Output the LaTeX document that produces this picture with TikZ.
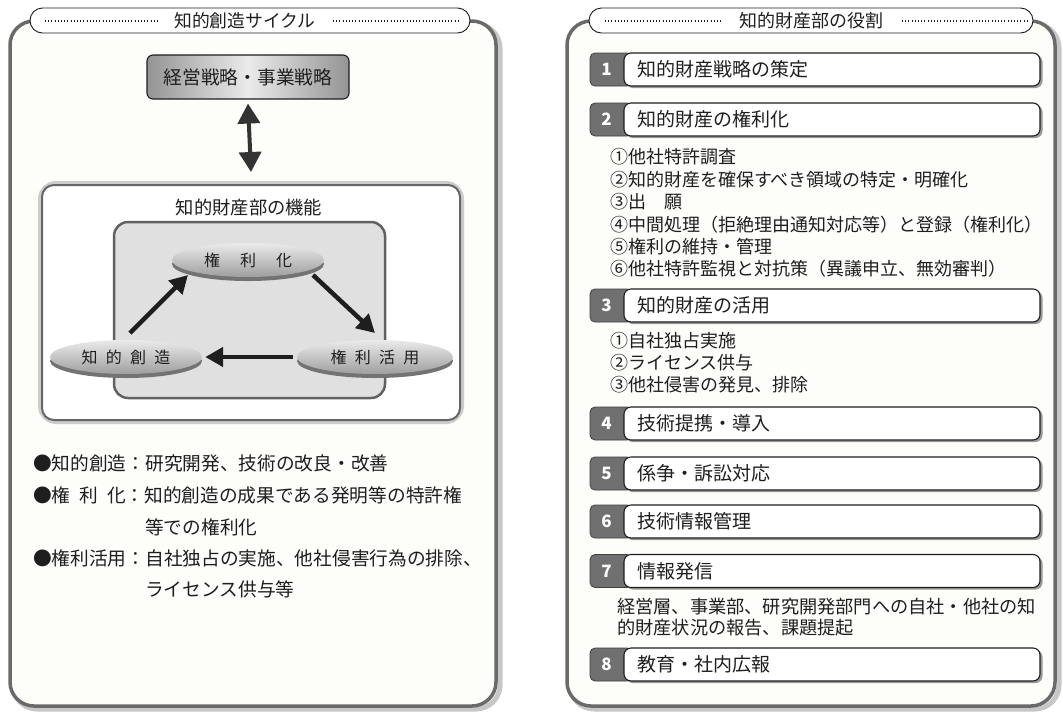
\documentclass[tikz,border=0pt]{standalone}
\usepackage{fontspec}
\setmainfont{Noto Sans CJK JP}
\usetikzlibrary{shapes.geometric,arrows.meta,calc}
\definecolor{paper}{HTML}{FDFDF9}
\definecolor{frame}{HTML}{6A6A6A}
\definecolor{ink}{HTML}{1E1E1E}
\definecolor{numbg}{HTML}{707070}
\newcommand\fs[1]{\fontsize{#1}{#1}\selectfont}
\newcommand\roleitem[4]{%
  \fill[black!40, rounded corners=7pt] (626,#2-14.5) rectangle (1042.5,#2+18.5);
  \draw[fill=numbg, draw=black!75, line width=0.8pt, rounded corners=5pt] (590,#2-16.5) rectangle (632,#2+16.5);
  \draw[fill=white, draw=ink, line width=1.1pt, rounded corners=7pt] (624,#2-16.5) rectangle (1040,#2+16.5);
  \node[numtxt] (n#1) at (606.5,#2) {#3};
  \node[hdrtxt] (h#1) at (637,#2) {#4};
}
\begin{document}
\begin{tikzpicture}[x=1pt,y=-1pt,
  pill/.style={draw=ink, line width=0.9pt, fill=white, rounded corners=12.5pt},
  dots/.style={draw=ink, line width=1.1pt, dash pattern=on 1pt off 2.2pt},
  numtxt/.style={text=white, font=\fs{17}\bfseries, inner sep=0pt},
  hdrtxt/.style={anchor=west, text=ink, font=\fs{19}, inner sep=0pt},
  sub/.style={anchor=west, text=ink, font=\fs{18}, inner sep=0pt},
  bul/.style={anchor=west, text=ink, font=\fs{18.7}, inner sep=0pt},
  oval/.style={ellipse, draw=none, top color=black!8, bottom color=black!38, minimum width=152pt, minimum height=34pt, inner sep=0pt, font=\fs{16}, text=ink},
  cyc/.style={line width=4.5pt, draw=ink, -{Triangle[length=18pt,width=19pt]}},
  dbl/.style={line width=4pt, draw=black!80, {Triangle[length=20pt,width=22pt]}-{Triangle[length=20pt,width=22pt]}}
]
\useasboundingbox (0,0) rectangle (1063,713);
\fill[white] (0,0) rectangle (1063,713);

% ---------------- left panel ----------------
\draw[line width=5pt, black!22, rounded corners=24pt] (13,24) rectangle (500,709);
\draw[line width=3.5pt, draw=frame, fill=paper, rounded corners=24pt] (10,21) rectangle (496,706);
\draw[pill] (30,8) rectangle (470,33);
\draw[dots] (45,21) -- (158,21);
\draw[dots] (333,21) -- (458,21);
\node[font=\fs{17.8}, text=ink, inner sep=0pt] (ltitle) at (245,20.5) {知的創造サイクル};

\node[draw=ink, line width=1.1pt, rounded corners=6pt, left color=black!42, right color=black!42, middle color=black!8,
      minimum width=202pt, minimum height=44pt, font=\fs{18.7}, text=ink] (strat) at (248,77) {経営戦略・事業戦略};

\draw[line width=8pt, black!20, rounded corners=14pt] (42,185) rectangle (460,420);
\node[draw=black!60, line width=2pt, fill=white, rounded corners=12pt, minimum width=418pt, minimum height=235pt] (func) at (251,302.5) {};
\node[font=\fs{18.3}, text=ink, inner sep=0pt] (functitle) at (249,208) {知的財産部の機能};
\node[draw=black!62, line width=2.5pt, fill=black!12, rounded corners=14pt, minimum width=271pt, minimum height=176pt] (core) at (249.5,310) {};

\draw[dbl] ([yshift=-4pt]strat.south) -- ([yshift=12pt]func.north);

\fill[black!55] (248,264) ellipse [x radius=76pt, y radius=17pt];
\fill[black!55] (126,361) ellipse [x radius=76pt, y radius=17pt];
\fill[black!55] (375,361) ellipse [x radius=78pt, y radius=17pt];
\node[oval] (kenri) at (248,260) {\makebox[88pt][s]{権\hfill 利\hfill 化}};
\node[oval] (chiteki) at (126,357) {\makebox[89pt][s]{知\hfill 的\hfill 創\hfill 造}};
\node[oval, minimum width=156pt] (katsuyo) at (375,357) {\makebox[89pt][s]{権\hfill 利\hfill 活\hfill 用}};

\draw[cyc] ($(chiteki.center)+(4,-24)$) -- ($(kenri.center)+(-60,15)$);
\draw[cyc] ($(kenri.center)+(65,15)$) -- ($(katsuyo.center)+(0,-24)$);
\draw[cyc] ([xshift=-4pt]katsuyo.west) -- ([xshift=3pt]chiteki.east);

\node[bul] (b1) at (33,463) {●知的創造：研究開発、技術の改良・改善};
\node[bul] (b2) at (33,495) {●\makebox[3.95em][s]{権\hfill 利\hfill 化}：知的創造の成果である発明等の特許権};
\node[bul] (b2b) at (145,527) {等での権利化};
\node[bul] (b3) at (33,558) {●権利活用：自社独占の実施、他社侵害行為の排除、};
\node[bul] (b3b) at (145,589) {ライセンス供与等};

% ---------------- right panel ----------------
\draw[line width=5pt, black!22, rounded corners=24pt] (570,24) rectangle (1059,709);
\draw[line width=3.5pt, draw=frame, fill=paper, rounded corners=24pt] (567,21) rectangle (1055,706);
\draw[pill] (589,8) rectangle (1033,33);
\draw[dots] (605,21) -- (722,21);
\draw[dots] (902,21) -- (1027,21);
\node[font=\fs{18}, text=ink, inner sep=0pt] (rtitle) at (811,20.5) {知的財産部の役割};

\roleitem{1}{69.5}{1}{知的財産戦略の策定}
\roleitem{2}{119.5}{2}{知的財産の権利化}
\node[sub] (s21) at (610,157) {①他社特許調査};
\node[sub] (s22) at (610,180) {②知的財産を確保すべき領域の特定・明確化};
\node[sub] (s23) at (610,202) {③出　願};
\node[sub] (s24) at (610,225) {④中間処理（拒絶理由通知対応等）と登録（権利化）};
\node[sub] (s25) at (610,247) {⑤権利の維持・管理};
\node[sub] (s26) at (610,269) {⑥他社特許監視と対抗策（異議申立、無効審判）};
\roleitem{3}{305.5}{3}{知的財産の活用}
\node[sub] (s31) at (610,341) {①自社独占実施};
\node[sub] (s32) at (610,363) {②ライセンス供与};
\node[sub] (s33) at (610,385) {③他社侵害の発見、排除};
\roleitem{4}{423.5}{4}{技術提携・導入}
\roleitem{5}{473.5}{5}{係争・訴訟対応}
\roleitem{6}{521.5}{6}{技術情報管理}
\roleitem{7}{571}{7}{情報発信}
\node[sub, font=\fs{18.2}] (s71) at (617,607) {経営層、事業部、研究開発部門への自社・他社の知};
\node[sub, font=\fs{18.2}] (s72) at (617,628) {的財産状況の報告、課題提起};
\roleitem{8}{664.5}{8}{教育・社内広報}
\end{tikzpicture}
\end{document}
